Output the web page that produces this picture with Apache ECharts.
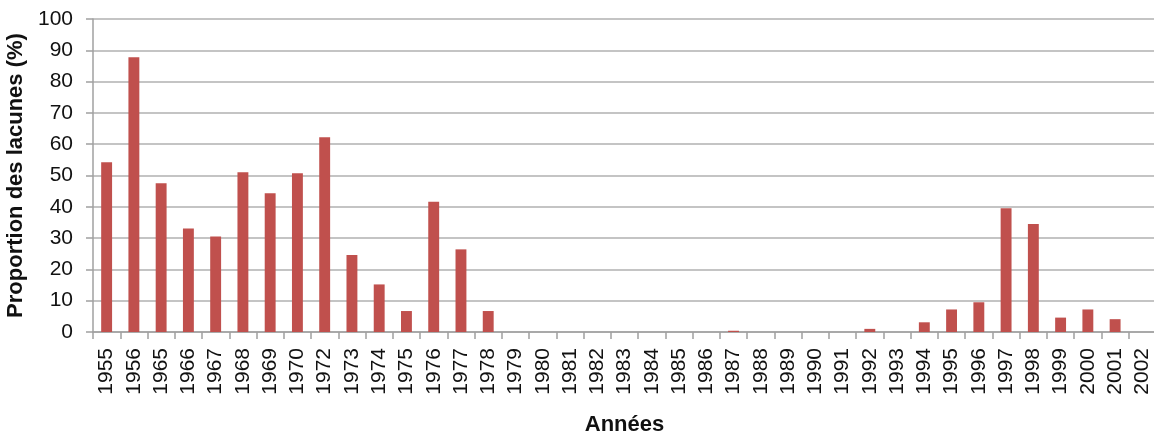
<!DOCTYPE html>
<html>
<head>
<meta charset="utf-8">
<script src="https://cdn.jsdelivr.net/npm/echarts@6/dist/echarts.min.js"></script>
<style>
html,body{margin:0;padding:0;background:#fff;}
#c{width:1154px;height:437px;}
</style>
</head>
<body>
<div id="c"></div>
<script>
const years = ['1955','1956','1965','1966','1967','1968','1969','1970','1972','1973','1974','1975','1976','1977','1978','1979','1980','1981','1982','1983','1984','1985','1986','1987','1988','1989','1990','1991','1992','1993','1994','1995','1996','1997','1998','1999','2000','2001','2002'];
const lacunes = [54.2,87.8,47.5,33.1,30.5,51.0,44.3,50.7,62.2,24.6,15.2,6.7,41.6,26.4,6.7,0,0,0,0,0,0,0,0,0.4,0,0,0,0,1.0,0,3.1,7.2,9.5,39.5,34.5,4.6,7.2,4.1,0];
const yTicks = [0,10,20,30,40,50,60,70,80,90,100];
const yTitle = 'Proportion des lacunes (%)';
const xTitle = 'Années';

const font = '"Liberation Sans", Arial, sans-serif';
const chart = echarts.init(document.getElementById('c'), null, {renderer:'canvas'});
chart.setOption({
  animation: false,
  backgroundColor: '#ffffff',
  grid: {left: 93, right: -2, top: 19, bottom: 105, containLabel: false, outerBoundsMode: 'none'},
  xAxis: {
    type: 'category',
    data: years,
    boundaryGap: true,
    name: xTitle,
    nameLocation: 'middle',
    nameGap: 82,
    nameTextStyle: {fontFamily: font, fontSize: 22, fontWeight: 'bold', color: '#111'},
    axisLine: {show: true, lineStyle: {color: '#a0a0a0', width: 1.5}},
    axisTick: {show: true, alignWithLabel: false, interval: 0, length: 7, lineStyle: {color: '#a0a0a0', width: 1.5}},
    axisLabel: {interval: 0, rotate: 90, margin: 16, fontFamily: font, fontSize: 21, color: '#111'},
    splitLine: {show: false}
  },
  yAxis: {
    type: 'value',
    min: yTicks[0],
    max: yTicks[yTicks.length-1],
    interval: 10,
    name: yTitle,
    nameLocation: 'middle',
    nameGap: 60,
    nameRotate: 90,
    nameTextStyle: {fontFamily: font, fontSize: 22, fontWeight: 'bold', color: '#111'},
    axisLine: {show: true, lineStyle: {color: '#a0a0a0', width: 1.5}},
    axisTick: {show: true, length: 7, lineStyle: {color: '#a0a0a0', width: 1.5}},
    axisLabel: {margin: 20, fontFamily: font, fontSize: 21, color: '#111'},
    splitLine: {show: true, lineStyle: {color: '#b0b0b0', width: 1.5}}
  },
  series: [{
    type: 'bar',
    data: lacunes,
    barWidth: '40%',
    itemStyle: {color: '#C0504D'}
  }]
});
</script>
</body>
</html>
